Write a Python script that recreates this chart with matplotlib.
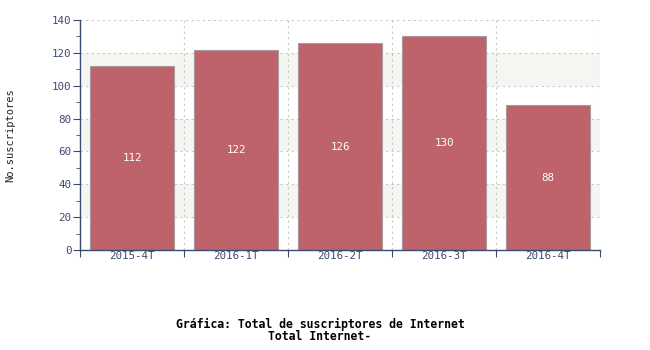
import matplotlib
matplotlib.use("Agg")
import matplotlib.pyplot as plt
import numpy as np

categories = ["2015-4T", "2016-1T", "2016-2T", "2016-3T", "2016-4T"]
values = [112, 122, 126, 130, 88]
yticks = [0, 20, 40, 60, 80, 100, 120, 140]

axis_col = "#3b4a6e"
bar_col = "#be626b"
mono = "DejaVu Sans Mono"

fig = plt.figure(figsize=(6.5, 3.5), dpi=100)
ax = fig.add_axes([80/650, 1-250/350, 520/650, 230/350])

n = len(categories)
x = np.arange(n) + 0.5
ax.set_xlim(0, n)
ax.set_ylim(0, 140)

# background bands
for lo in [20, 60, 100]:
    ax.axhspan(lo, lo + 20, xmin=0.004, xmax=1, color="#f5f5f1", zorder=0, lw=0)

# grid
for yv in yticks[1:]:
    ax.axhline(yv, color="#c8c8c8", ls=(0, (2, 3)), lw=0.8, zorder=0.5)
for xv in range(1, n + 1):
    ax.axvline(xv, color="#c8c8c8", ls=(0, (2, 3)), lw=0.8, zorder=0.5)

bars = ax.bar(x, values, width=0.81, color=bar_col, edgecolor="#a89a9c",
              linewidth=0.8, zorder=2)
for xi, v in zip(x, values):
    ax.text(xi, v / 2, str(v), ha="center", va="center", color="white",
            fontsize=7.8, family=mono, zorder=3)

ax.set_yticks(yticks)
ax.set_yticks(np.arange(10, 140, 20), minor=True)
ax.set_xticks(range(0, n + 1))
ax.set_xticklabels([])
ax.set_xticks(x, minor=True)
ax.set_xticklabels(categories, minor=True)
ax.tick_params(axis="x", which="major", length=5, color=axis_col, direction="out")
ax.tick_params(axis="x", which="minor", length=0, labelsize=7.8, labelcolor=axis_col, pad=1)
ax.tick_params(axis="y", which="major", length=5, color=axis_col, labelsize=7.8, labelcolor=axis_col, pad=1)
ax.tick_params(axis="y", which="minor", length=3, color=axis_col)
for lab in ax.get_xticklabels(minor=True) + ax.get_yticklabels():
    lab.set_family(mono)

for s in ["top", "right"]:
    ax.spines[s].set_visible(False)
for s in ["left", "bottom"]:
    ax.spines[s].set_color(axis_col)
    ax.spines[s].set_linewidth(1.0)

fig.text(10/650, 1-135/350, "No.suscriptores", rotation=90, ha="center", va="center",
         fontsize=7.5, family=mono, color="#222222")
fig.text(320/650, 1-324/350, "Gráfica: Total de suscriptores de Internet", ha="center",
         va="center", fontsize=8.3, family=mono, weight="bold", color="black")
fig.text(320/650, 1-337/350, "Total Internet-", ha="center",
         va="center", fontsize=8.3, family=mono, weight="bold", color="black")

fig.savefig("out.png", dpi=100)
